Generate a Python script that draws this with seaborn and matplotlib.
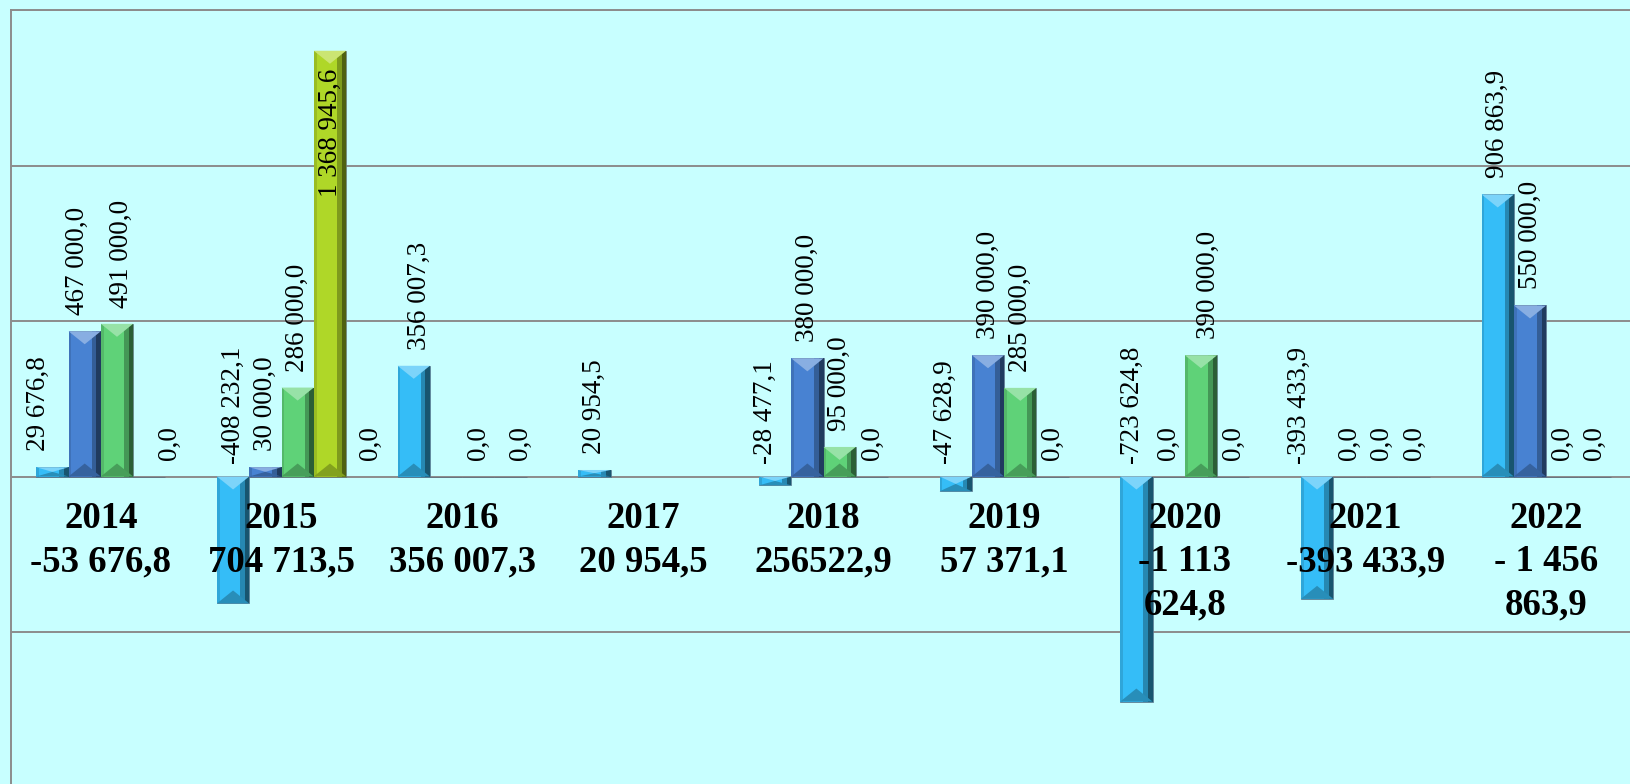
import numpy as np
import pandas as pd
import matplotlib
matplotlib.use("Agg")
import matplotlib.pyplot as plt
import seaborn as sns
from matplotlib.patches import Polygon, Rectangle
from matplotlib.colors import to_rgb

# ---------------- data ----------------
YEARS = ["2014", "2015", "2016", "2017", "2018", "2019", "2020", "2021", "2022"]
SERIES = ["s1", "s2", "s3", "s4"]
S1 = [29676.8, -408232.1, 356007.3, 20954.5, -28477.1, -47628.9, -723624.8, -393433.9, 906863.9]
S2 = [467000.0, 30000.0, 0.0, np.nan, 380000.0, 390000.0, 0.0, 0.0, 550000.0]
S3 = [491000.0, 286000.0, 0.0, np.nan, 95000.0, 285000.0, 390000.0, 0.0, 0.0]
S4 = [0.0, 1368945.6, 0.0, np.nan, 0.0, 0.0, 0.0, 0.0, 0.0]
CAT_LABELS = ["2014\n-53 676,8", "2015\n704 713,5", "2016\n356 007,3", "2017\n20 954,5",
              "2018\n256522,9", "2019\n57 371,1", "2020\n-1 113\n624,8",
              "2021\n-393 433,9", "2022\n- 1 456\n863,9"]

# ---------------- style ----------------
COLORS = ["#35bdf7", "#4882d2", "#5fd278", "#afd728"]
BG = "#c8ffff"
GRID = "#8c8c8c"
SERIF = ["Liberation Serif", "DejaVu Serif"]
PX = 72.0 / 100.0  # points per pixel at dpi 100
# label x-shifts in pixels (layout only), keyed by (category index, series index)
LABEL_DX = {(0, 0): -14, (0, 1): -7, (0, 2): 4, (0, 3): 20, (2, 0): 6, (2, 1): -76,
            (2, 3): 10, (4, 0): -10, (5, 0): -10, (6, 0): -4, (6, 2): 7, (7, 0): -18}

values = [S1, S2, S3, S4]
df = pd.DataFrame({
    "year": YEARS * 4,
    "series": sum([[s] * len(YEARS) for s in SERIES], []),
    "value": S1 + S2 + S3 + S4,
})

fig = plt.figure(figsize=(16.3, 7.84), dpi=100, facecolor=BG)
ax = fig.add_axes([10.5 / 1630, -3.5 / 784, 1626 / 1630, 777.5 / 784])
ax.set_facecolor(BG)

sns.barplot(data=df, x="year", y="value", hue="series", order=YEARS, hue_order=SERIES,
            palette=COLORS, width=0.715, errorbar=None, legend=False, saturation=1,
            ax=ax, zorder=2, edgecolor="#5a6a7a", linewidth=0.5)

ax.set_xlim(-0.5, 8.5)
ax.set_ylim(-1_000_000, 1_500_000)
ax.set_yticks(np.arange(-1_000_000, 1_500_001, 500_000))
ax.yaxis.grid(True, color=GRID, linewidth=1.4)
ax.set_axisbelow(True)
ax.tick_params(length=0, labelleft=False, labelbottom=False)
ax.set_xlabel("")
ax.set_ylabel("")
for side in ["left", "top"]:
    ax.spines[side].set_color(GRID)
    ax.spines[side].set_linewidth(1.4)
ax.spines["bottom"].set_visible(False)
ax.spines["right"].set_visible(False)

# pixel -> data conversion
inv = ax.transData.inverted()
p0 = inv.transform((0, 0))
p1 = inv.transform((1, 1))
xpp, ypp = p1[0] - p0[0], p1[1] - p0[1]


def shade(c, f):
    r = np.array(to_rgb(c))
    return tuple(np.clip(r * f, 0, 1))


def tint(c, f):
    r = np.array(to_rgb(c))
    return tuple(r + (1 - r) * f)


def fmt(v):
    s = f"{abs(v):,.1f}".replace(",", " ").replace(".", ",")
    return ("-" if v < 0 else "") + s


# bevel effect derived from the seaborn bar geometry
for si, cont in enumerate(ax.containers):
    col = COLORS[si]
    for bar in cont:
        h = bar.get_height()
        if h is None or np.isnan(h) or h == 0:
            continue
        x, w = bar.get_x(), bar.get_width()
        y0, y1 = min(bar.get_y(), bar.get_y() + h), max(bar.get_y(), bar.get_y() + h)
        hp = (y1 - y0) / ypp
        d = min(13, hp / 2) * ypp
        ax.add_patch(Rectangle((x, y0), 0.09 * w, y1 - y0, color=shade(col, 0.88), zorder=2.1, lw=0))
        ax.add_patch(Rectangle((x + 0.72 * w, y0), 0.14 * w, y1 - y0, color=shade(col, 0.72), zorder=2.1, lw=0))
        ax.add_patch(Rectangle((x + 0.86 * w, y0), 0.14 * w, y1 - y0, color=shade(col, 0.45), zorder=2.1, lw=0))
        ax.add_patch(Polygon([(x, y1), (x + w, y1), (x + w / 2, y1 - d)], closed=True,
                             color=tint(col, 0.35), zorder=2.2, lw=0))
        ax.add_patch(Polygon([(x, y0), (x + w, y0), (x + w / 2, y0 + d)], closed=True,
                             color=shade(col, 0.75), zorder=2.2, lw=0))

# value labels
ytop = ax.get_ylim()[1]
for si, cont in enumerate(ax.containers):
    for bar in cont:
        h = bar.get_height()
        if h is None or np.isnan(h):
            continue
        xc = bar.get_x() + bar.get_width() / 2
        ci = int(round(xc))
        v = values[si][ci]
        if np.isnan(v):
            continue
        dx = LABEL_DX.get((ci, si), 0) * PX
        if v + 480_000 > ytop:
            ax.annotate(fmt(v), xy=(xc, v), xytext=(dx, -18 * PX), textcoords="offset points",
                        rotation=90, ha="center", va="top", fontsize=19.5, family=SERIF, zorder=6)
        else:
            gap = 12 if v < 0 else 16
            ax.annotate(fmt(v), xy=(xc, max(v, 0)), xytext=(dx, gap * PX), textcoords="offset points",
                        rotation=90, ha="center", va="bottom", fontsize=19.5, family=SERIF, zorder=6)

# category labels under the zero line
for i, lab in enumerate(CAT_LABELS):
    ax.annotate(lab, xy=(i, 0), xytext=(0, -24 * PX), textcoords="offset points",
                ha="center", va="top", multialignment="center", fontsize=26.5,
                fontweight="bold", family=SERIF, linespacing=1.32, zorder=7)

fig.savefig("out.png", dpi=100, facecolor=BG)
